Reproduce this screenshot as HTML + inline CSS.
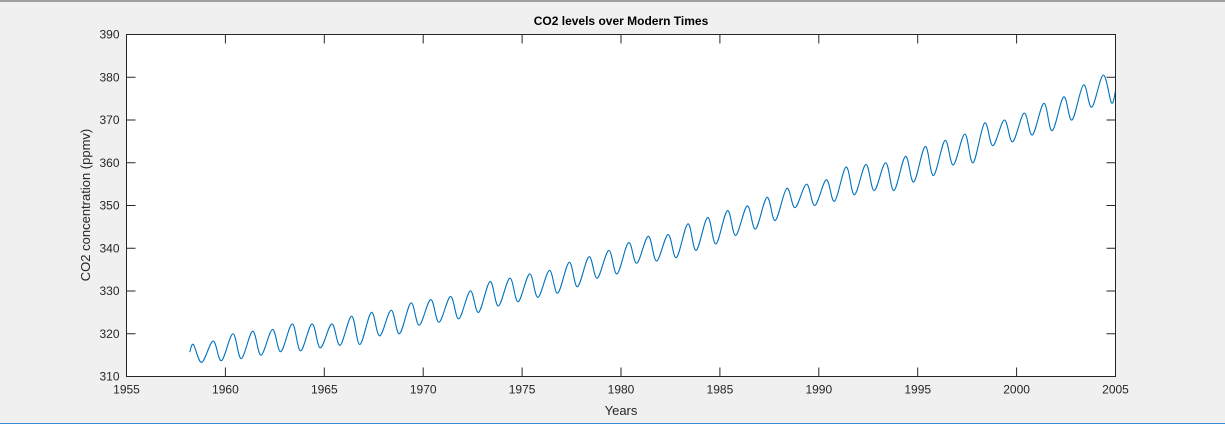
<!DOCTYPE html>
<html><head><meta charset="utf-8"><style>
html,body{margin:0;padding:0;background:#f0f0f0;}
svg{display:block;font-family:"Liberation Sans",Arial,sans-serif;}
</style></head><body>
<svg id="chart" width="1225" height="424" viewBox="0 0 1225 424" xmlns="http://www.w3.org/2000/svg">
<rect x="0" y="0" width="1225" height="424" fill="#f0f0f0"/>
<line x1="0" y1="1" x2="1225" y2="1" stroke="#a0a0a0" stroke-width="2"/>
<line x1="0" y1="423.5" x2="1225" y2="423.5" stroke="#3c8ad8" stroke-width="1"/>
<rect x="126.5" y="34.5" width="989" height="342" fill="#ffffff"/>
<g id="grid"></g>
<g id="series"></g>
<rect x="126.5" y="34.5" width="989" height="342" fill="none" stroke="#262626" stroke-width="1"/>
<text x="621" y="25" text-anchor="middle" font-size="12" font-weight="bold" fill="#000">CO2 levels over Modern Times</text>
<text x="621" y="415" text-anchor="middle" font-size="13" fill="#262626">Years</text>
<text transform="translate(90,205) rotate(-90)" text-anchor="middle" font-size="13" fill="#262626">CO2 concentration (ppmv)</text>
</svg>
<script>
const years = [1958,1959,1960,1961,1962,1963,1964,1965,1966,1967,1968,1969,1970,1971,1972,1973,1974,1975,1976,1977,1978,1979,1980,1981,1982,1983,1984,1985,1986,1987,1988,1989,1990,1991,1992,1993,1994,1995,1996,1997,1998,1999,2000,2001,2002,2003,2004];
const peaks = [317.5,318.3,320.0,320.6,321.0,322.3,322.3,322.3,324.1,325.0,325.5,327.2,328.0,328.7,330.0,332.2,333.0,334.0,334.8,336.7,338.0,339.5,341.3,342.8,343.2,345.7,347.2,348.8,349.9,351.9,354.0,355.0,356.0,359.0,359.6,360.0,361.5,363.8,365.2,366.7,369.3,370.0,371.6,373.9,375.4,378.2,380.5];
const troughs = [313.3,313.7,314.2,315.0,315.8,316.0,316.7,317.3,317.5,319.5,320.0,322.0,322.7,323.5,325.0,326.5,327.5,328.5,329.5,331.0,333.0,334.0,336.5,337.0,337.8,339.5,341.0,343.0,344.5,346.5,349.5,350.0,351.0,352.5,353.5,353.5,355.5,357.0,359.5,360.0,364.0,364.9,366.5,367.5,370.0,373.0,374.0];
const startPoint = [1958.2, 315.7];
const endPoint = [2005.0, 376.8];
const xTicks = [1955,1960,1965,1970,1975,1980,1985,1990,1995,2000,2005];
const yTicks = [310,320,330,340,350,360,370,380,390];

const X0=126.5,X1=1115.5,Y0=376.5,Y1=34.5;
const xs = v => X0 + (v-1955)/(2005-1955)*(X1-X0);
const ys = v => Y0 - (v-310)/(390-310)*(Y0-Y1);
const NS='http://www.w3.org/2000/svg';
const g=document.getElementById('grid'), s=document.getElementById('series'), svg=document.getElementById('chart');

xTicks.forEach(t=>{
  const x=xs(t);
  [[Y0,Y0-9],[Y1,Y1+9]].forEach(([a,b])=>{
    const l=document.createElementNS(NS,'line');
    l.setAttribute('x1',x);l.setAttribute('x2',x);l.setAttribute('y1',a);l.setAttribute('y2',b);
    l.setAttribute('stroke','#262626');
    
    
    g.appendChild(l);
  });
  const tx=document.createElementNS(NS,'text');
  tx.setAttribute('x',x);tx.setAttribute('y',Y0+17);tx.setAttribute('text-anchor','middle');
  tx.setAttribute('font-size','12');tx.setAttribute('fill','#262626');
  tx.textContent=t;
  
  
  svg.appendChild(tx);
});
yTicks.forEach(t=>{
  const y=ys(t);
  [[X0,X0+9],[X1,X1-9]].forEach(([a,b])=>{
    const l=document.createElementNS(NS,'line');
    l.setAttribute('y1',y);l.setAttribute('y2',y);l.setAttribute('x1',a);l.setAttribute('x2',b);
    l.setAttribute('stroke','#262626');
    
    
    g.appendChild(l);
  });
  const tx=document.createElementNS(NS,'text');
  tx.setAttribute('x',X0-7);tx.setAttribute('y',y+4);tx.setAttribute('text-anchor','end');
  tx.setAttribute('font-size','12');tx.setAttribute('fill','#262626');
  tx.textContent=t;
  
  
  svg.appendChild(tx);
});

// build point list: start, then per year peak (~May) and trough (~Oct)
const pts=[[xs(startPoint[0]),ys(startPoint[1])]];
years.forEach((yr,i)=>{
  pts.push([xs(yr+0.38),ys(peaks[i])]);
  pts.push([xs(yr+0.8),ys(troughs[i])]);
});
pts.push([xs(endPoint[0]),ys(endPoint[1])]);
// Catmull-Rom smoothing
let d=`M${pts[0][0].toFixed(2)},${pts[0][1].toFixed(2)}`;
for(let i=0;i<pts.length-1;i++){
  const p0=pts[Math.max(0,i-1)],p1=pts[i],p2=pts[i+1],p3=pts[Math.min(pts.length-1,i+2)];
  const c1=[p1[0]+(p2[0]-p0[0])/6,p1[1]+(p2[1]-p0[1])/6];
  const c2=[p2[0]-(p3[0]-p1[0])/6,p2[1]-(p3[1]-p1[1])/6];
  d+=` C${c1[0].toFixed(2)},${c1[1].toFixed(2)} ${c2[0].toFixed(2)},${c2[1].toFixed(2)} ${p2[0].toFixed(2)},${p2[1].toFixed(2)}`;
}
const path=document.createElementNS(NS,'path');
path.setAttribute('d',d);path.setAttribute('fill','none');
path.setAttribute('stroke','#0072bd');path.setAttribute('stroke-width','1.1');


s.appendChild(path);
</script>
</body></html>
